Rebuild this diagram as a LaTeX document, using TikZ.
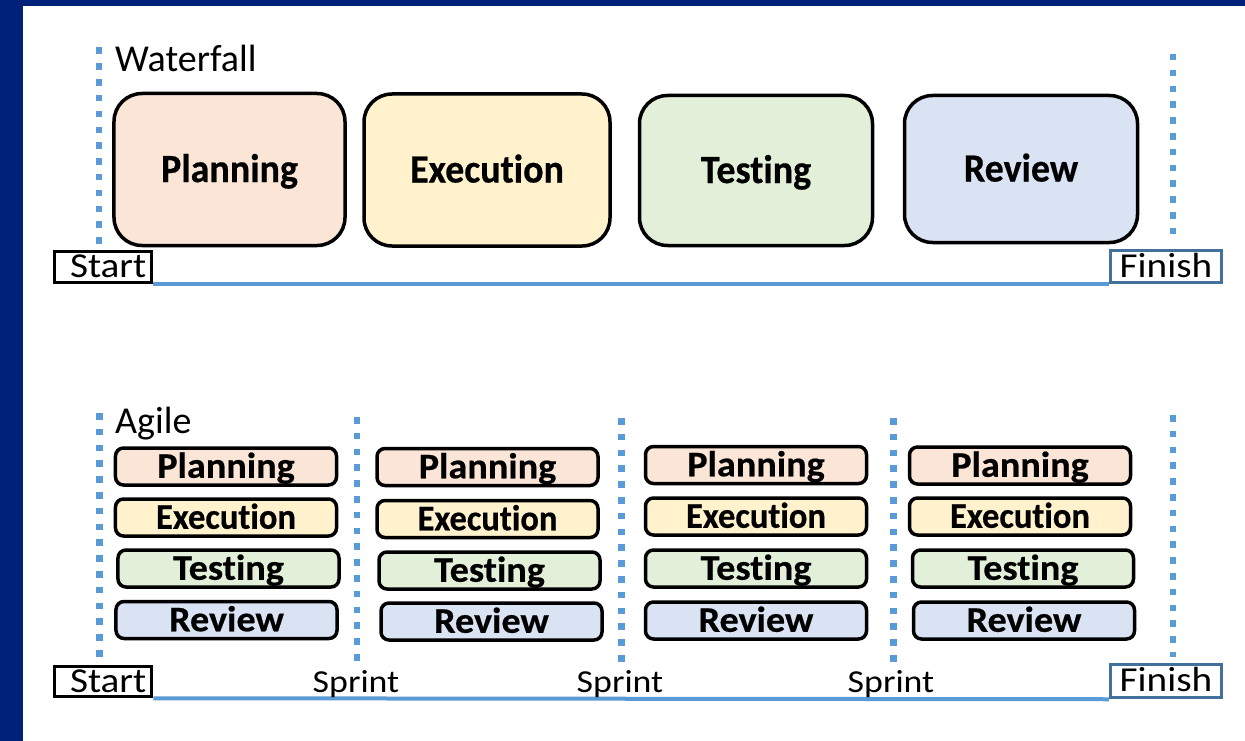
\documentclass[tikz,border=0pt]{standalone}
\usepackage{fontspec}
\setmainfont{Carlito}[Ligatures=NoCommon]
\newfontfamily\widefont{Carlito}[FakeStretch=1.12, Ligatures=NoCommon]
\newfontfamily\phasefont{Carlito}[FakeStretch=0.95, FakeBold=0.5, Ligatures=NoCommon]
\newfontfamily\stepfont{Carlito}[FakeStretch=1.06, FakeBold=0.5, Ligatures=NoCommon]
\newfontfamily\stepnarrowfont{Carlito}[FakeStretch=0.96, FakeBold=0.5, Ligatures=NoCommon]

\definecolor{frameblue}{RGB}{0,33,122}
\definecolor{dotblue}{RGB}{91,155,213}
\definecolor{finishblue}{RGB}{65,113,156}
\definecolor{planfill}{RGB}{250,229,215}
\definecolor{execfill}{RGB}{255,242,204}
\definecolor{testfill}{RGB}{226,240,217}
\definecolor{revfill}{RGB}{218,227,243}

\tikzset{
  phasebox/.style={draw=black, line width=3.5bp, rounded corners=28bp, inner sep=0pt,
    font=\fontsize{40bp}{42bp}\selectfont\phasefont\bfseries, text height=25bp, text depth=0pt},
  sprintbox/.style={draw=black, line width=3.5bp, rounded corners=8bp, inner sep=0pt,
    minimum width=221bp, minimum height=37bp,
    font=\fontsize{36bp}{38bp}\selectfont\stepfont\bfseries, text height=22.5bp, text depth=0pt},
  execbox/.style={sprintbox, font=\fontsize{36bp}{38bp}\selectfont\stepnarrowfont\bfseries},
  sepline/.style={dotblue, line width=6.5bp, dash pattern=on 6.5bp off 9.3bp},
  timeline/.style={dotblue, line width=4bp},
  startbox/.style={draw=black, line width=3bp, inner ysep=0pt, inner xsep=5.5bp,
    text width=86.5bp, align=right, minimum height=31.5bp,
    font=\fontsize{35bp}{37bp}\selectfont\widefont, text height=21bp, text depth=0pt},
  finishbox/.style={draw=finishblue, line width=3bp, inner sep=0pt,
    minimum width=111.5bp, minimum height=32.5bp,
    font=\fontsize{35bp}{37bp}\selectfont\widefont, text height=21bp, text depth=0pt},
  heading/.style={inner sep=0pt, anchor=base west, font=\fontsize{38bp}{40bp}\selectfont},
  sprintlabel/.style={inner sep=0pt, anchor=base, font=\fontsize{32bp}{34bp}\selectfont\widefont}
}

\begin{document}
\begin{tikzpicture}[x=1bp, y=-1bp]
  % page and frame
  \useasboundingbox (0,0) rectangle (1245,741);
  \fill[white] (0,0) rectangle (1245,741);
  \fill[frameblue] (0,0) rectangle (23,741);
  \fill[frameblue] (0,0) rectangle (1245,6);

  % ---------------- Waterfall ----------------
  \node[heading] (wtitle) at (115,72) {Waterfall};
  \draw[sepline] (99,47.5) -- (99,248);
  \draw[sepline] (1173,54) -- (1173,241);

  \node[phasebox, fill=planfill, minimum width=231bp, minimum height=152bp] (wplan) at (229.5,169.5) {Planning};
  \node[phasebox, fill=execfill, minimum width=246bp, minimum height=152bp] (wexec) at (487,170) {Execution};
  \node[phasebox, fill=testfill, minimum width=233bp, minimum height=150bp] (wtest) at (756,170.5) {Testing};
  \node[phasebox, fill=revfill, minimum width=233bp, minimum height=147bp] (wrev) at (1021,169) {Review};

  \node[startbox] (wstart) at (103,267) {Start};
  \node[finishbox] (wfinish) at (1166,266.5) {Finish};
  \draw[timeline] (wstart.south east) -- (wfinish.south west);

  % ---------------- Agile ----------------
  \node[heading] (atitle) at (115,433) {Agile};
  \draw[sepline] (99.5,413) -- (99.5,665);
  \draw[sepline] (357,417) -- (357,665);
  \draw[sepline] (621.5,418) -- (621.5,665);
  \draw[sepline] (893.5,418) -- (893.5,665);
  \draw[sepline] (1173,415) -- (1173,657);

  % sprint 1
  \node[sprintbox, fill=planfill] (p1) at (226,466.5) {Planning};
  \node[execbox,   fill=execfill] (e1) at (226,517.5) {Execution};
  \node[sprintbox, fill=testfill] (t1) at (228.5,568.5) {Testing};
  \node[sprintbox, fill=revfill]  (r1) at (226.5,620) {Review};
  % sprint 2
  \node[sprintbox, fill=planfill] (p2) at (487.5,467) {Planning};
  \node[execbox,   fill=execfill] (e2) at (487.5,519) {Execution};
  \node[sprintbox, fill=testfill] (t2) at (489.5,570.5) {Testing};
  \node[sprintbox, fill=revfill]  (r2) at (491.5,621.5) {Review};
  % sprint 3
  \node[sprintbox, fill=planfill] (p3) at (756,465) {Planning};
  \node[execbox,   fill=execfill] (e3) at (756,516.5) {Execution};
  \node[sprintbox, fill=testfill] (t3) at (756,568.5) {Testing};
  \node[sprintbox, fill=revfill]  (r3) at (756,620.5) {Review};
  % sprint 4
  \node[sprintbox, fill=planfill] (p4) at (1020,465.5) {Planning};
  \node[execbox,   fill=execfill] (e4) at (1020,516.5) {Execution};
  \node[sprintbox, fill=testfill] (t4) at (1023,568.5) {Testing};
  \node[sprintbox, fill=revfill]  (r4) at (1024,620.5) {Review};

  \node[startbox, minimum height=30.5bp] (astart) at (103,681.5) {Start};
  \node[finishbox, minimum height=33.5bp] (afinish) at (1166,681) {Finish};
  \draw[timeline] (astart.south east) -- (afinish.south west);

  \node[sprintlabel] (s1) at (356,692) {Sprint};
  \node[sprintlabel] (s2) at (620,692) {Sprint};
  \node[sprintlabel] (s3) at (891,692) {Sprint};
\end{tikzpicture}
\end{document}
